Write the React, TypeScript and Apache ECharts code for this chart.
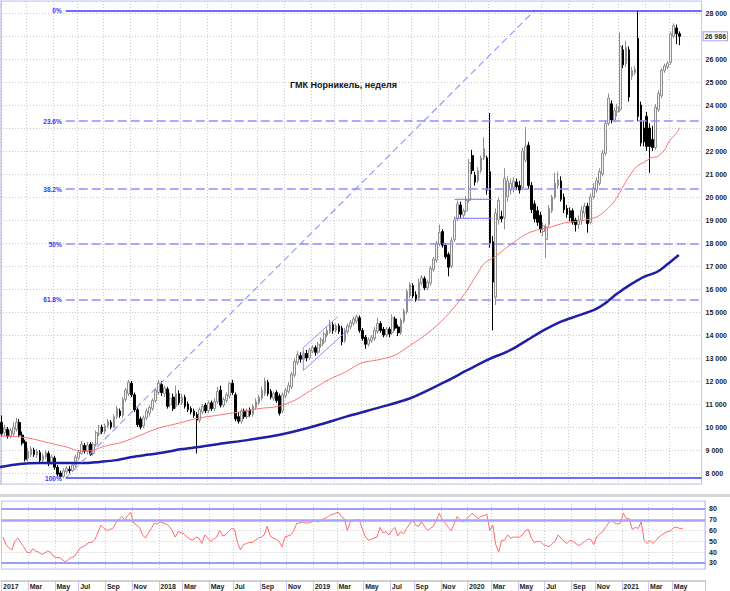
import React, { useEffect, useRef } from 'react';
import * as echarts from 'echarts';

// ---- categories: weekly slots (Mondays) ----
const FIRST_WEEK = '2016-12-26';
const WEEK_SLOTS = 237;
const LAST_LABELLED_WEEK = 231;
const MONTH_NAMES = ['Jan', 'Feb', 'Mar', 'Apr', 'May', 'Jun', 'Jul', 'Aug', 'Sep', 'Oct', 'Nov', 'Dec'];

const TITLE = 'ГМК Норникель, неделя';

// ---- weekly candles [open, close, low, high] ----
const candles: number[][] = [
  [10200, 9700, 9600, 10500], [9750, 9950, 9600, 10100], [9900, 9600, 9500, 10000], [9600, 9850, 9500, 9950],
  [9700, 10000, 9600, 10200], [9900, 10200, 9800, 10400], [10200, 9650, 9550, 10350], [9650, 9300, 9200, 9800],
  [9350, 8600, 8500, 9450], [8650, 8950, 8500, 9100], [8800, 9050, 8700, 9150], [9000, 8800, 8700, 9100],
  [8800, 8950, 8650, 9050], [8900, 8550, 8450, 9000], [8550, 8750, 8450, 8850], [8700, 8900, 8600, 9000],
  [8850, 8400, 8300, 8950], [8450, 8700, 8350, 8800], [8650, 8250, 8150, 8750], [8250, 7950, 7850, 8350],
  [8000, 7850, 7800, 8100], [7850, 8100, 7780, 8200], [8050, 8200, 7950, 8300], [8150, 8100, 8000, 8300],
  [8100, 8350, 8050, 8450], [8350, 8700, 8250, 8800], [8650, 8900, 8550, 9000], [8850, 9250, 8800, 9400],
  [9200, 8950, 8850, 9300], [8950, 9200, 8800, 9350], [9250, 8800, 8750, 9350], [8850, 9250, 8750, 9350],
  [9250, 9750, 9150, 9850], [9700, 10000, 9600, 10100], [10000, 9800, 9700, 10100], [9800, 10050, 9700, 10150],
  [10050, 10250, 9950, 10350], [10200, 10000, 9900, 10300], [10000, 10450, 9950, 10550], [10450, 10800, 10350, 10900],
  [10700, 10500, 10400, 10800], [10500, 11200, 10400, 11300], [11200, 11600, 11100, 11700], [11450, 11950, 11350, 12050],
  [11900, 11400, 11300, 12000], [11400, 10750, 10650, 11500], [10750, 10100, 10000, 10850], [10350, 10000, 9900, 10450],
  [10050, 10400, 9950, 10500], [10400, 10700, 10300, 10800], [10600, 10850, 10450, 10950], [10800, 11150, 10700, 11250],
  [11150, 11600, 11050, 11700], [11500, 11900, 11400, 12050], [11850, 11500, 11350, 12000], [11450, 11700, 11300, 11800],
  [11650, 10900, 10800, 11750], [10950, 11250, 10850, 11500], [11300, 10800, 10700, 11450], [10900, 11450, 10800, 11800],
  [11450, 11050, 10950, 11600], [11050, 11300, 10950, 11450], [11300, 10900, 10800, 11400], [11000, 10750, 10650, 11100],
  [10800, 10650, 10550, 10900], [10700, 10500, 10400, 10800], [10550, 10300, 8850, 10650], [10300, 10750, 10200, 10850],
  [10650, 10900, 10550, 11000], [10950, 10700, 10600, 11050], [10700, 11050, 10600, 11150], [11050, 10800, 10700, 11150],
  [10800, 11100, 10700, 11250], [11100, 11550, 11000, 11750], [11600, 10950, 10850, 11800], [10950, 11200, 10850, 11300],
  [11150, 11400, 11050, 11500], [11350, 11900, 11250, 11950], [11900, 11500, 11400, 12050], [11400, 10350, 10250, 11500],
  [10450, 10250, 10150, 10650], [10250, 10700, 10150, 10800], [10700, 10450, 10350, 10800], [10450, 10700, 10350, 10800],
  [10750, 10550, 10450, 10850], [10550, 10900, 10450, 11000], [10850, 11100, 10750, 11250], [11050, 11300, 10950, 11400],
  [11250, 11600, 11150, 11750], [11450, 12000, 11350, 12150], [11950, 11450, 11350, 12050], [11550, 11300, 11200, 11650],
  [11250, 11450, 11150, 11550], [11500, 11150, 11050, 11600], [11350, 10600, 10500, 11450], [10700, 11400, 10600, 11500],
  [11350, 11600, 11250, 11700], [11550, 11800, 11450, 11950], [11750, 12300, 11650, 12400], [12250, 12850, 12150, 13000],
  [12800, 13150, 12700, 13300], [13100, 12950, 12800, 13250], [12950, 13200, 12850, 13300], [13200, 13000, 12850, 13350],
  [13000, 13350, 12900, 13450], [13300, 13450, 13200, 13550], [13450, 13250, 13100, 13550], [13250, 13600, 13150, 13700],
  [13550, 13800, 13450, 13900], [13700, 14050, 13600, 14150], [14000, 14200, 13900, 14350], [14150, 14450, 14050, 14650],
  [14450, 14200, 14050, 14550], [14200, 14400, 14100, 14500], [14400, 14150, 14050, 14500], [14300, 13700, 13550, 14400],
  [13750, 14200, 13650, 14300], [14150, 14400, 14050, 14500], [14350, 14550, 14250, 14650], [14500, 14700, 14400, 14800],
  [14600, 14800, 14500, 14900], [14750, 14200, 14100, 14850], [14200, 13850, 13750, 14300], [13900, 13600, 13400, 14000],
  [13600, 13800, 13500, 13900], [13750, 13900, 13650, 14000], [13850, 14200, 13750, 14350], [14150, 14500, 14050, 14750],
  [14500, 14200, 14100, 14600], [14250, 14000, 13900, 14350], [14000, 14250, 13900, 14350], [14250, 14050, 13900, 14350],
  [14100, 14750, 14000, 14900], [14700, 14300, 14200, 14800], [14350, 14100, 13950, 14450], [14100, 14650, 14000, 14750],
  [14600, 15050, 14500, 15150], [15000, 15900, 14900, 16000], [15700, 16200, 15600, 16300], [16150, 15700, 15600, 16250],
  [15750, 15550, 15450, 15900], [15600, 16300, 15500, 16450], [16250, 16500, 16150, 16600], [16450, 16050, 15950, 16550],
  [16050, 16300, 15950, 16400], [16250, 16900, 16150, 17000], [16850, 17300, 16750, 17400], [17250, 18000, 17150, 18100],
  [17950, 18450, 17850, 18800], [18500, 17900, 17800, 18600], [17900, 17400, 17300, 18000], [17500, 16950, 16550, 17600],
  [17000, 18100, 16900, 18250], [18150, 19000, 18050, 19150], [19050, 19700, 18950, 19850], [19650, 19250, 19100, 19800],
  [19200, 19400, 19100, 19500], [19400, 19850, 19300, 20050], [19850, 21500, 19750, 21650], [21800, 21150, 21000, 22050],
  [20950, 20650, 20500, 21100], [20700, 21150, 20600, 21300], [21150, 21700, 21050, 21800], [21700, 22100, 21600, 22600],
  [21700, 20300, 20100, 21800], [21100, 18000, 17800, 23650], [18050, 16300, 14200, 18300], [15650, 19300, 15300, 19500],
  [19000, 19850, 18800, 20000], [19150, 19050, 18900, 19400], [19100, 20800, 18600, 21250], [20000, 20700, 19800, 20900],
  [20300, 20600, 20100, 20800], [20400, 20700, 20200, 20850], [20650, 20450, 20300, 20800], [20500, 20300, 20150, 20700],
  [20400, 22000, 20300, 22150], [21600, 22200, 21500, 23050], [22250, 20500, 20350, 22400], [20500, 19450, 19300, 20650],
  [19700, 19050, 18900, 19850], [19400, 18900, 18750, 19600], [19200, 18600, 18450, 19350], [18500, 18750, 18300, 18900],
  [18150, 18700, 17350, 18850], [18800, 19500, 18700, 19650], [19400, 20000, 19300, 20100], [20000, 20600, 19900, 21050],
  [20500, 20750, 20350, 21100], [20700, 19900, 19800, 20900], [20000, 19450, 19300, 20150], [19500, 19250, 19100, 19650],
  [19400, 19100, 18950, 19550], [19400, 18900, 18800, 19500], [19000, 18800, 18500, 19100], [18800, 19000, 18600, 19200],
  [19000, 19400, 18800, 19600], [19300, 19600, 19100, 19750], [19600, 18850, 18450, 19750], [18900, 20000, 18800, 20150],
  [20000, 20400, 19900, 20600], [20300, 20700, 20200, 20850], [20600, 21100, 20500, 21250], [21000, 21900, 20900, 22050],
  [21900, 23200, 21800, 23350], [23200, 24300, 23100, 24500], [24050, 23350, 23200, 24200], [23350, 23750, 23250, 23900],
  [23700, 23900, 23500, 24050], [23800, 26550, 23700, 27150], [26400, 25750, 25600, 26600], [25800, 26500, 25650, 26800],
  [26400, 24350, 24150, 26550], [25250, 25500, 25100, 25650], [25400, 25550, 25300, 25700], [26900, 23500, 23300, 28100],
  [24000, 22350, 22200, 24150], [23000, 22400, 22200, 23300], [23500, 22200, 22000, 23700], [23000, 22200, 21050, 23200],
  [22500, 22150, 22000, 23100], [22150, 23900, 22050, 24050], [23800, 24500, 23700, 24650], [24400, 25500, 24300, 25600],
  [25500, 25700, 25400, 25800], [25650, 25800, 25550, 25900], [25850, 27100, 25750, 27200], [27000, 27450, 26900, 27550],
  [27350, 27100, 26650, 27500], [27100, 26986, 26600, 27200],
];

const LAST_PRICE = 26986;

// ---- RSI (weekly) ----
const rsi: number[] = [
  54, 47, 44, 42, 50, 53, 49, 45, 40, 39, 43, 41, 40, 38, 39, 41, 40, 36, 35, 35,
  33, 31, 33, 35, 36, 40, 44, 45, 47, 49, 49, 52, 58, 65, 62, 60, 61, 62, 67, 70,
  73, 70, 74, 77, 67, 65, 63, 56, 53, 58, 62, 67, 66, 68, 67, 66, 64, 60, 54, 59,
  58, 57, 54, 52, 51, 54, 53, 48, 56, 53, 50, 52, 54, 60, 55, 56, 59, 62, 61, 49,
  42, 47, 48, 49, 49, 51, 53, 54, 56, 64, 55, 53, 52, 50, 45, 54, 55, 56, 60, 67,
  67, 68, 67, 67, 68, 70, 68, 69, 71, 72, 74, 75, 76, 77, 73, 71, 60, 68, 69, 70,
  70, 62, 55, 51, 52, 53, 54, 63, 58, 59, 56, 60, 63, 55, 59, 57, 62, 66, 70, 65,
  64, 68, 64, 60, 62, 64, 70, 76, 70, 67, 63, 60, 66, 73, 70, 68, 70, 73, 76, 74,
  71, 73, 74, 75, 60, 65, 47, 40, 51, 51, 56, 53, 54, 54, 54, 56, 60, 61, 53, 49,
  50, 50, 47, 46, 45, 48, 50, 56, 53, 50, 48, 51, 50, 48, 46, 48, 50, 52, 52, 47,
  54, 57, 59, 63, 67, 70, 67, 66, 67, 76, 71, 71, 61, 63, 62, 68, 51, 48, 51, 48,
  51, 54, 56, 58, 59, 60, 63, 63, 62, 62,
];
const RSI_LEVELS = [80, 70, 30];

// ---- moving averages: [week position, value] ----
const maFast: number[][] = [
  [-0.5, 9610], [6.2, 9570], [10.6, 9480], [16.3, 9300], [22.0, 9130], [26.4, 8960], [29.8, 8960],
  [33.1, 9090], [36.5, 9220], [39.8, 9300], [44.2, 9500], [48.9, 9750], [53.3, 9960], [60.0, 10170],
  [66.7, 10390], [73.5, 10520], [80.2, 10650], [86.9, 10800], [93.6, 10900], [99.3, 11180],
  [104.7, 11610], [110.4, 12050], [116.2, 12390], [121.5, 12780], [127.2, 12920], [133.0, 13130],
  [138.3, 13570], [144.1, 14090], [149.8, 14750], [156.5, 15800], [160.9, 16700], [163.2, 17130],
  [166.6, 17390], [171.0, 17830], [176.7, 18350], [181.0, 18570], [184.4, 18650], [190.1, 18870],
  [195.5, 18960], [201.2, 19140], [205.6, 19600], [207.9, 19980], [211.3, 20750], [214.6, 21330],
  [217.0, 21500], [219.7, 21720], [221.4, 21750], [223.7, 22000], [225.7, 22450], [228.1, 22790],
  [229.1, 23010],
];
const maSlow: number[][] = [
  [-0.5, 8260], [6.2, 8390], [12.9, 8430], [22.0, 8430], [28.7, 8430], [33.1, 8480], [38.8, 8560],
  [44.2, 8700], [49.9, 8800], [55.6, 8910], [61.0, 9040], [66.7, 9130], [73.5, 9260], [83.5, 9440],
  [93.6, 9650], [104.7, 10000], [116.2, 10440], [127.2, 10830], [138.3, 11260], [149.8, 11960],
  [157.5, 12480], [164.2, 12920], [172.0, 13350], [177.7, 13790], [183.4, 14220], [188.8, 14570],
  [194.5, 14830], [200.2, 15090], [203.6, 15350], [207.9, 15790], [212.3, 16180], [217.0, 16530],
  [221.4, 16740], [224.7, 17050], [228.8, 17480],
];

// ---- Fibonacci retracement & drawings ----
const fibLabels = ['0%', '23.6%', '38.2%', '50%', '61.8%', '100%'];
const fibPrices = [28100, 23300, 20340, 17950, 15540, 7780];
const fibFromWeek = 21.7;
const fibToWeek = 236.5;
const trendLine: number[][] = [[21.7, 7780], [180.0, 28100]];
const channel: number[][] = [[113.6, 14796], [101.9, 13448], [102.0, 12457], [116.6, 14174]];
const boxTop: number[][] = [[153.1, 19900], [165.6, 19900]];
const boxBottom: number[][] = [[153.1, 19074], [165.6, 19074]];

const PRICE_MIN = 7522;
const PRICE_MAX = 28522;
const RSI_MIN = 24.4;
const RSI_MAX = 87.4;

function buildWeeks(): string[] {
  const out: string[] = [];
  const d0 = new Date(FIRST_WEEK + 'T00:00:00Z');
  for (let i = 0; i < WEEK_SLOTS; i++) {
    const d = new Date(d0.getTime() + i * 7 * 86400000);
    out.push(d.toISOString().slice(0, 10));
  }
  return out;
}
const weeks = buildWeeks();

function labelFor(idx: number): string {
  if (idx > LAST_LABELLED_WEEK) return '';
  const d = new Date(new Date(weeks[idx] + 'T00:00:00Z').getTime() + 6 * 86400000);
  if (d.getUTCDate() > 7) return '';
  const m = d.getUTCMonth();
  if (m % 2 !== 0) return '';
  return m === 0 ? String(d.getUTCFullYear()) : MONTH_NAMES[m];
}
const isMark = (idx: number) => labelFor(idx) !== '';

const fmtPrice = (v: number) => String(Math.round(v)).replace(/\B(?=(\d{3})+(?!\d))/g, ' ');

const FONT = 'Liberation Sans';
const GRID_LINE = { color: '#c9c9c9', type: [1, 2] as any, width: 1 };

export default function App() {
  const ref = useRef<HTMLDivElement>(null);
  useEffect(() => {
    if (!ref.current) return;
    const chart = echarts.init(ref.current, undefined, { renderer: 'svg' });
    const option: any = {
      animation: false,
      backgroundColor: '#ffffff',
      title: {
        text: TITLE, left: 290, top: 80, padding: 0,
        textStyle: { fontSize: 9, fontWeight: 'bold', color: '#111', fontFamily: FONT },
      },
      grid: [
        { left: 0, top: 1, width: 705, height: 483, show: true, borderColor: '#c4c4ff', borderWidth: 1 },
        { left: 0, top: 501, width: 705, height: 68, show: true, borderColor: '#c4c4ff', borderWidth: 1 },
      ],
      xAxis: [
        {
          type: 'category', gridIndex: 0, data: weeks, boundaryGap: true,
          axisLine: { show: false }, axisTick: { show: false }, axisLabel: { show: false },
          splitLine: { show: true, interval: (i: number) => isMark(i), lineStyle: GRID_LINE },
        },
        {
          type: 'category', gridIndex: 1, data: weeks, boundaryGap: true, position: 'bottom', offset: 12,
          axisLine: { show: true, lineStyle: { color: '#cfcfcf', width: 2 } },
          axisTick: { show: true, interval: (i: number) => isMark(i), length: 10, lineStyle: { color: '#c4c4ff' } },
          axisLabel: {
            show: true, interval: (i: number) => isMark(i), formatter: (_v: string, i: number) => labelFor(i),
            align: 'left', margin: 2, fontSize: 7, fontWeight: 'bold', color: '#222', fontFamily: FONT,
          },
          splitLine: { show: true, interval: (i: number) => isMark(i), lineStyle: GRID_LINE },
        },
        { type: 'value', gridIndex: 0, min: -0.5, max: 236.5, show: false },
      ],
      yAxis: [
        {
          type: 'value', gridIndex: 0, position: 'right', min: PRICE_MIN, max: PRICE_MAX, splitNumber: 21,
          axisLine: { show: true, lineStyle: { color: '#c4c4ff' } }, axisTick: { show: false },
          axisLabel: {
            showMinLabel: false, showMaxLabel: false, formatter: fmtPrice, margin: 4,
            fontSize: 7, fontWeight: 'bold', color: '#222', fontFamily: FONT,
          },
          splitLine: { show: true, lineStyle: GRID_LINE },
        },
        {
          type: 'value', gridIndex: 1, position: 'right', min: RSI_MIN, max: RSI_MAX, splitNumber: 6,
          axisLine: { show: true, lineStyle: { color: '#c4c4ff' } }, axisTick: { show: false },
          axisLabel: {
            showMinLabel: false, showMaxLabel: false, margin: 4,
            fontSize: 7, fontWeight: 'bold', color: '#222', fontFamily: FONT,
          },
          splitLine: { show: true, lineStyle: GRID_LINE },
        },
      ],
      graphic: [
        { type: 'rect', shape: { x: 0, y: 494, width: 730, height: 3 }, style: { fill: '#d6d6d6' }, silent: true },
      ],
      series: [
        {
          type: 'line', name: 'maSlow', xAxisIndex: 2, yAxisIndex: 0, data: maSlow, smooth: 0.3,
          symbol: 'none', lineStyle: { color: '#1e1ea6', width: 2.5 },
        },
        {
          type: 'line', name: 'maFast', xAxisIndex: 2, yAxisIndex: 0, data: maFast, smooth: 0.3,
          symbol: 'none', lineStyle: { color: '#ff7272', width: 1 },
        },
        {
          type: 'line', name: 'trend', xAxisIndex: 2, yAxisIndex: 0, data: trendLine,
          symbol: 'none', lineStyle: { color: '#9a9aff', width: 1.2, type: [7, 4] },
          markLine: {
            symbol: ['none', 'none'], silent: true, animation: false,
            data: fibPrices.map((p, k) => {
              const solid = k === 0 || k === fibPrices.length - 1;
              return [
                {
                  coord: [fibFromWeek, p],
                  lineStyle: solid
                    ? { color: '#3c3cff', width: 1.6, type: 'solid' }
                    : { color: '#8e8eff', width: 1.5, type: [9, 4] },
                  label: {
                    show: true, position: 'start', formatter: fibLabels[k], distance: 4,
                    color: '#3535ff', fontSize: 6.5, fontWeight: 'bold', fontFamily: FONT,
                  },
                },
                { coord: [fibToWeek, p] },
              ];
            }),
          },
        },
        {
          type: 'line', name: 'channel', xAxisIndex: 2, yAxisIndex: 0, data: channel,
          symbol: 'none', lineStyle: { color: '#8c8cff', width: 1 },
        },
        {
          type: 'line', name: 'boxTop', xAxisIndex: 2, yAxisIndex: 0, data: boxTop,
          symbol: 'none', lineStyle: { color: '#7070ff', width: 1 },
        },
        {
          type: 'line', name: 'boxBottom', xAxisIndex: 2, yAxisIndex: 0, data: boxBottom,
          symbol: 'none', lineStyle: { color: '#7070ff', width: 1 },
        },
        {
          type: 'candlestick', name: 'price', xAxisIndex: 0, yAxisIndex: 0, data: candles, barWidth: 2.2,
          itemStyle: { color: '#f4f4f4', color0: '#000000', borderColor: '#8e8e8e', borderColor0: '#000000', borderWidth: 1 },
        },
        {
          type: 'line', name: 'last', xAxisIndex: 2, yAxisIndex: 0, data: [[fibToWeek, LAST_PRICE]], clip: false,
          symbol: 'circle', symbolSize: 0.1, itemStyle: { color: 'rgba(0,0,0,0)' },
          label: {
            show: true, position: 'right', distance: 2, formatter: fmtPrice(LAST_PRICE),
            backgroundColor: '#ffffff', borderColor: '#9c9cff', borderWidth: 1, padding: [1, 1, 0, 1],
            fontSize: 7, fontWeight: 'bold', color: '#222', fontFamily: FONT,
          },
        },
        {
          type: 'line', name: 'rsi', xAxisIndex: 1, yAxisIndex: 1, data: rsi,
          symbol: 'none', lineStyle: { color: '#ff6a6a', width: 1 },
          markLine: {
            symbol: ['none', 'none'], silent: true, animation: false, label: { show: false },
            data: RSI_LEVELS.map((lv) => ({
              yAxis: lv,
              lineStyle: lv === 70
                ? { color: '#a4a4ff', width: 2.5, type: 'solid' }
                : { color: '#8080f4', width: 1.5, type: 'solid' },
            })),
          },
        },
      ],
    };
    chart.setOption(option);
    return () => chart.dispose();
  }, []);
  return (
    <div
      ref={ref}
      style={{ position: 'fixed', left: 0, top: 0, width: 730, height: 591, background: '#fff' }}
    />
  );
}
